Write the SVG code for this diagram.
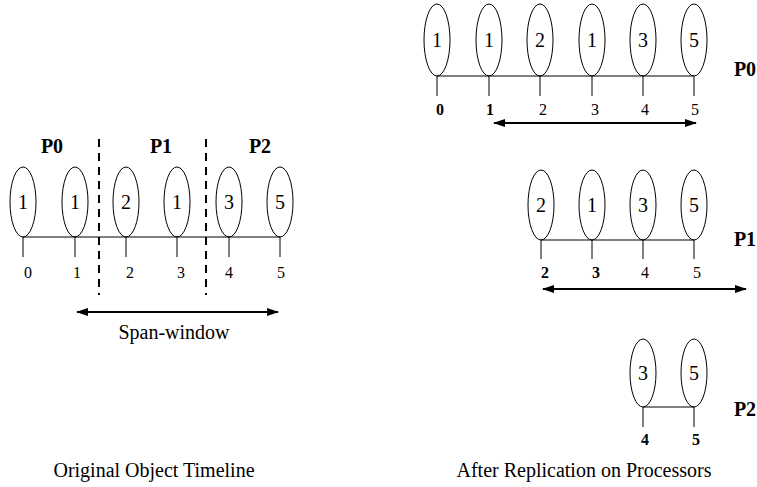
<svg xmlns="http://www.w3.org/2000/svg" width="757" height="487" viewBox="0 0 757 487">
<style>
.e{fill:none;stroke:#000;stroke-width:1}
.l{stroke:#000;stroke-width:1;fill:none}
.t{font-family:"Liberation Serif",serif;font-size:20px;text-anchor:middle;fill:#000}
.s{font-family:"Liberation Serif",serif;font-size:16px;text-anchor:middle;fill:#000}
.b{font-weight:bold}
.a{stroke:#000;stroke-width:2;fill:none;marker-start:url(#h);marker-end:url(#h)}
.d{stroke:#000;stroke-width:2;stroke-dasharray:8,6;fill:none}
</style>
<defs>
<marker id="h" viewBox="0 0 12 8" refX="11" refY="4" markerWidth="12" markerHeight="8" markerUnits="userSpaceOnUse" orient="auto-start-reverse">
<path d="M0,0 L12,4 L0,8 Z" fill="#000"/>
</marker>
</defs>
<g id="connectors">
<path class="l" d="M23,237 H280 M23,237 V257 M75,237 V257 M126,237 V257 M177,237 V257 M229,237 V257 M280,237 V257"/>
<path class="d" d="M99,139 V295 M206,139 V295"/>
<path class="a" d="M77,312 H278"/>
<path class="l" d="M437,76 H694 M437,76 V96 M489,76 V96 M540,76 V96 M592,76 V96 M643,76 V96 M694,76 V96"/>
<path class="a" d="M494,123 H696"/>
<path class="l" d="M541,240 H694 M541,240 V259 M592,240 V259 M643,240 V259 M694,240 V259"/>
<path class="a" d="M543,289 H746"/>
<path class="l" d="M643,407 H694 M643,407 V427 M694,407 V427"/>
</g>
<g id="left">
<g id="L0"><ellipse class="e" cx="23" cy="202" rx="13" ry="35"/><text class="t" x="23" y="209">1</text></g>
<g id="L1"><ellipse class="e" cx="75" cy="202" rx="13" ry="35"/><text class="t" x="75" y="209">1</text></g>
<g id="L2"><ellipse class="e" cx="126" cy="202" rx="13" ry="35"/><text class="t" x="126" y="209">2</text></g>
<g id="L3"><ellipse class="e" cx="177" cy="202" rx="13" ry="35"/><text class="t" x="177" y="209">1</text></g>
<g id="L4"><ellipse class="e" cx="229" cy="202" rx="13" ry="35"/><text class="t" x="229" y="209">3</text></g>
<g id="L5"><ellipse class="e" cx="280" cy="202" rx="13" ry="35"/><text class="t" x="280" y="209">5</text></g>
<text class="s" x="28" y="278">0</text><text class="s" x="77" y="278">1</text><text class="s" x="130" y="278">2</text><text class="s" x="181" y="278">3</text><text class="s" x="229" y="278">4</text><text class="s" x="281" y="278">5</text>
<text class="t b" x="52" y="153">P0</text><text class="t b" x="161" y="153">P1</text><text class="t b" x="260" y="153">P2</text>
<text class="t" x="174" y="339">Span-window</text>
<text class="t" x="154" y="477">Original Object Timeline</text>
</g>
<g id="rightP0">
<g id="A0"><ellipse class="e" cx="437" cy="40" rx="13" ry="36"/><text class="t" x="437" y="47">1</text></g>
<g id="A1"><ellipse class="e" cx="489" cy="40" rx="13" ry="36"/><text class="t" x="489" y="47">1</text></g>
<g id="A2"><ellipse class="e" cx="540" cy="40" rx="13" ry="36"/><text class="t" x="540" y="47">2</text></g>
<g id="A3"><ellipse class="e" cx="592" cy="40" rx="13" ry="36"/><text class="t" x="592" y="47">1</text></g>
<g id="A4"><ellipse class="e" cx="643" cy="40" rx="13" ry="36"/><text class="t" x="643" y="47">3</text></g>
<g id="A5"><ellipse class="e" cx="694" cy="40" rx="13" ry="36"/><text class="t" x="694" y="47">5</text></g>
<text class="s b" x="440" y="115">0</text><text class="s b" x="490" y="115">1</text><text class="s" x="543" y="115">2</text><text class="s" x="595" y="115">3</text><text class="s" x="645" y="115">4</text><text class="s" x="695" y="115">5</text>
<text class="t b" x="745" y="76">P0</text>
</g>
<g id="rightP1">
<g id="B0"><ellipse class="e" cx="541" cy="205" rx="13" ry="35"/><text class="t" x="541" y="212">2</text></g>
<g id="B1"><ellipse class="e" cx="592" cy="205" rx="13" ry="35"/><text class="t" x="592" y="212">1</text></g>
<g id="B2"><ellipse class="e" cx="643" cy="205" rx="13" ry="35"/><text class="t" x="643" y="212">3</text></g>
<g id="B3"><ellipse class="e" cx="694" cy="205" rx="13" ry="35"/><text class="t" x="694" y="212">5</text></g>
<text class="s b" x="545" y="278">2</text><text class="s b" x="596" y="278">3</text><text class="s" x="645" y="278">4</text><text class="s" x="697" y="278">5</text>
<text class="t b" x="745" y="246">P1</text>
</g>
<g id="rightP2">
<g id="C0"><ellipse class="e" cx="643" cy="373" rx="13" ry="34"/><text class="t" x="643" y="380">3</text></g>
<g id="C1"><ellipse class="e" cx="694" cy="373" rx="13" ry="34"/><text class="t" x="694" y="380">5</text></g>
<text class="s b" x="645" y="445">4</text><text class="s b" x="696" y="445">5</text>
<text class="t b" x="745" y="416">P2</text>
<text class="t" x="584" y="477">After Replication on Processors</text>
</g>
</svg>
